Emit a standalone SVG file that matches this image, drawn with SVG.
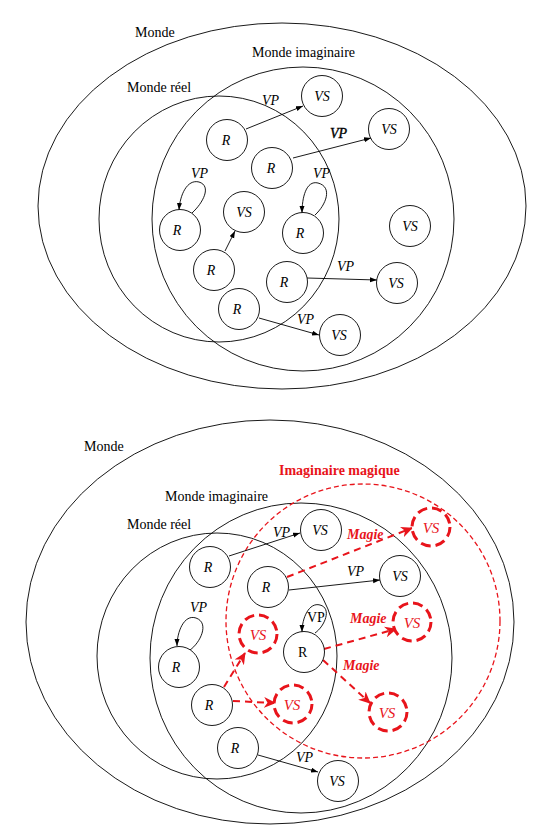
<svg xmlns="http://www.w3.org/2000/svg" width="534" height="840" viewBox="0 0 534 840">
<style>
.bg{fill:#fff}
.set{fill:none;stroke:#000;stroke-width:0.9}
.magset{fill:none;stroke:#e8141b;stroke-width:1.3;stroke-dasharray:5 3}
.n{fill:#fff;stroke:#000;stroke-width:0.9}
.rn{fill:#fff;stroke:#e8141b;stroke-width:3;stroke-dasharray:10 5}
.t{font-family:"Liberation Serif",serif;font-size:14px;fill:#000}
.it{font-family:"Liberation Serif",serif;font-size:14px;font-style:italic;fill:#000}
.lbl{font-family:"Liberation Serif",serif;font-size:14px;font-style:italic;fill:#000;text-anchor:middle}
.rlbl{font-family:"Liberation Serif",serif;font-size:15px;font-style:italic;fill:#e8141b;text-anchor:middle}
.mag{font-family:"Liberation Serif",serif;font-size:14px;font-style:italic;font-weight:bold;fill:#e8141b}
.edge{fill:none;stroke:#000;stroke-width:0.9;marker-end:url(#ab)}
.redge{fill:none;stroke:#e8141b;stroke-width:2;stroke-dasharray:7 5;marker-end:url(#ar)}
</style>
<defs>
<marker id="ab" markerUnits="userSpaceOnUse" markerWidth="8" markerHeight="6" refX="7" refY="2.5" orient="auto"><path d="M0,0 L7,2.5 L0,5 z" fill="#000"/></marker>
<marker id="ar" markerUnits="userSpaceOnUse" markerWidth="13" markerHeight="12" refX="11" refY="5.5" orient="auto"><path d="M0,0 L12,5.5 L0,11 L3.5,5.5 z" fill="#e8141b"/></marker>
</defs>
<rect class="bg" width="534" height="840"/>

<!-- Top diagram -->
<g id="top-sets">
<ellipse class="set" cx="282" cy="206" rx="244" ry="183"/>
<ellipse class="set" cx="303" cy="219" rx="151" ry="152"/>
<ellipse class="set" cx="219" cy="219" rx="120" ry="123"/>
<text class="t" x="135" y="37">Monde</text>
<text class="t" x="252" y="57">Monde imaginaire</text>
<text class="t" x="127" y="92">Monde réel</text>
</g>
<g id="top-connectors">
<path class="edge" d="M246,129 L303,106"/>
<path class="edge" d="M293,158 L371,138"/>
<path class="edge" d="M192,213 C203,203 212,186 199,182 C187,179 180,195 179,210"/>
<path class="edge" d="M315,215 C326,205 333,187 318,183 C306,180 302,198 302,213"/>
<path class="edge" d="M225,251 L235,231"/>
<path class="edge" d="M307,278 L377,280"/>
<path class="edge" d="M259,318 L319,335"/>
<text class="it" x="262" y="105">VP</text>
<text class="it" x="330" y="138" stroke="#000" stroke-width="0.4">VP</text>
<text class="it" x="191" y="178">VP</text>
<text class="it" x="313" y="178">VP</text>
<text class="it" x="337" y="271">VP</text>
<text class="it" x="297" y="324">VP</text>
</g>
<g id="t-vs1"><circle class="n" cx="322" cy="96" r="20.5"/><text class="lbl" x="322" y="101">VS</text></g>
<g id="t-vs2"><circle class="n" cx="389" cy="129" r="20.5"/><text class="lbl" x="389" y="134">VS</text></g>
<g id="t-r1"><circle class="n" cx="227" cy="140" r="20.5"/><text class="lbl" x="226" y="145">R</text></g>
<g id="t-r2"><circle class="n" cx="272" cy="168" r="20.5"/><text class="lbl" x="271" y="173">R</text></g>
<g id="t-r3"><circle class="n" cx="180" cy="230" r="20.5"/><text class="lbl" x="177" y="235">R</text></g>
<g id="t-vs3"><circle class="n" cx="244" cy="212" r="20.5"/><text class="lbl" x="244" y="217">VS</text></g>
<g id="t-r4"><circle class="n" cx="303" cy="233" r="20.5"/><text class="lbl" x="300" y="238">R</text></g>
<g id="t-vs4"><circle class="n" cx="410" cy="226" r="20.5"/><text class="lbl" x="410" y="231">VS</text></g>
<g id="t-r5"><circle class="n" cx="214" cy="270" r="20.5"/><text class="lbl" x="211" y="275">R</text></g>
<g id="t-r6"><circle class="n" cx="287" cy="282" r="20.5"/><text class="lbl" x="284" y="287">R</text></g>
<g id="t-vs5"><circle class="n" cx="397" cy="283" r="20.5"/><text class="lbl" x="396" y="288">VS</text></g>
<g id="t-r7"><circle class="n" cx="239" cy="309" r="20.5"/><text class="lbl" x="237" y="314">R</text></g>
<g id="t-vs6"><circle class="n" cx="340" cy="335" r="20.5"/><text class="lbl" x="339" y="340">VS</text></g>

<!-- Bottom diagram -->
<g id="bottom-sets">
<ellipse class="set" cx="270" cy="622" rx="244" ry="202"/>
<ellipse class="set" cx="301" cy="658" rx="151" ry="155"/>
<ellipse class="set" cx="217" cy="656" rx="120" ry="123"/>
<circle class="magset" cx="363" cy="621" r="137"/>
<text class="t" x="84" y="451">Monde</text>
<text class="t" x="165" y="501">Monde imaginaire</text>
<text class="t" x="127" y="529">Monde réel</text>
<text x="279" y="475" font-family="Liberation Serif, serif" font-size="14" font-weight="bold" fill="#e8141b">Imaginaire magique</text>
</g>
<g id="bottom-connectors">
<path class="edge" d="M229,556 L300,533"/>
<path class="redge" d="M287,577 L412,528"/>
<path class="edge" d="M289,590 L380,580"/>
<path class="edge" d="M315,633 C325,626 332,608 320,605 C309,602 302,618 302,632"/>
<path class="redge" d="M324,649 L396,629"/>
<path class="redge" d="M323,660 L370,703"/>
<path class="edge" d="M190,650 C200,643 210,623 196,618 C184,614 177,632 177,646"/>
<path class="redge" d="M224,687 L245,653"/>
<path class="redge" d="M233,701 L275,703"/>
<path class="edge" d="M258,755 L318,772"/>
<text class="it" x="273" y="537">VP</text>
<text class="mag" x="347" y="539">Magie</text>
<text class="it" x="347" y="576">VP</text>
<text class="t" x="307" y="622">VP</text>
<text class="mag" x="350" y="623">Magie</text>
<text class="mag" x="343" y="670">Magie</text>
<text class="it" x="190" y="612">VP</text>
<text class="it" x="296" y="762">VP</text>
</g>
<g id="b-vs1"><circle class="n" cx="321" cy="530" r="20.5"/><text class="lbl" x="320" y="535">VS</text></g>
<g id="b-r1"><circle class="n" cx="210" cy="567" r="20.5"/><text class="lbl" x="208" y="572">R</text></g>
<g id="b-r2"><circle class="n" cx="268" cy="587" r="20.5"/><text class="lbl" x="266" y="592">R</text></g>
<g id="b-mvs1"><circle class="rn" cx="431" cy="527" r="19"/><text class="rlbl" x="431" y="533">VS</text></g>
<g id="b-vs2"><circle class="n" cx="400" cy="576" r="20.5"/><text class="lbl" x="400" y="581">VS</text></g>
<g id="b-mvs2"><circle class="rn" cx="258" cy="634" r="19"/><text class="rlbl" x="258" y="640">VS</text></g>
<g id="b-r3"><circle class="n" cx="304" cy="652" r="20.5"/><text x="298" y="657" font-family="Liberation Serif, serif" font-size="14" fill="#000">R</text></g>
<g id="b-mvs3"><circle class="rn" cx="412" cy="622" r="19"/><text class="rlbl" x="412" y="628">VS</text></g>
<g id="b-r4"><circle class="n" cx="179" cy="667" r="20.5"/><text class="lbl" x="176" y="672">R</text></g>
<g id="b-r5"><circle class="n" cx="212" cy="705" r="20.5"/><text class="lbl" x="209" y="710">R</text></g>
<g id="b-mvs4"><circle class="rn" cx="293" cy="704" r="19"/><text class="rlbl" x="292" y="710">VS</text></g>
<g id="b-mvs5"><circle class="rn" cx="388" cy="712" r="19"/><text class="rlbl" x="387" y="718">VS</text></g>
<g id="b-r6"><circle class="n" cx="238" cy="748" r="20.5"/><text class="lbl" x="235" y="753">R</text></g>
<g id="b-vs3"><circle class="n" cx="338" cy="781" r="20.5"/><text class="lbl" x="337" y="786">VS</text></g>
</svg>
